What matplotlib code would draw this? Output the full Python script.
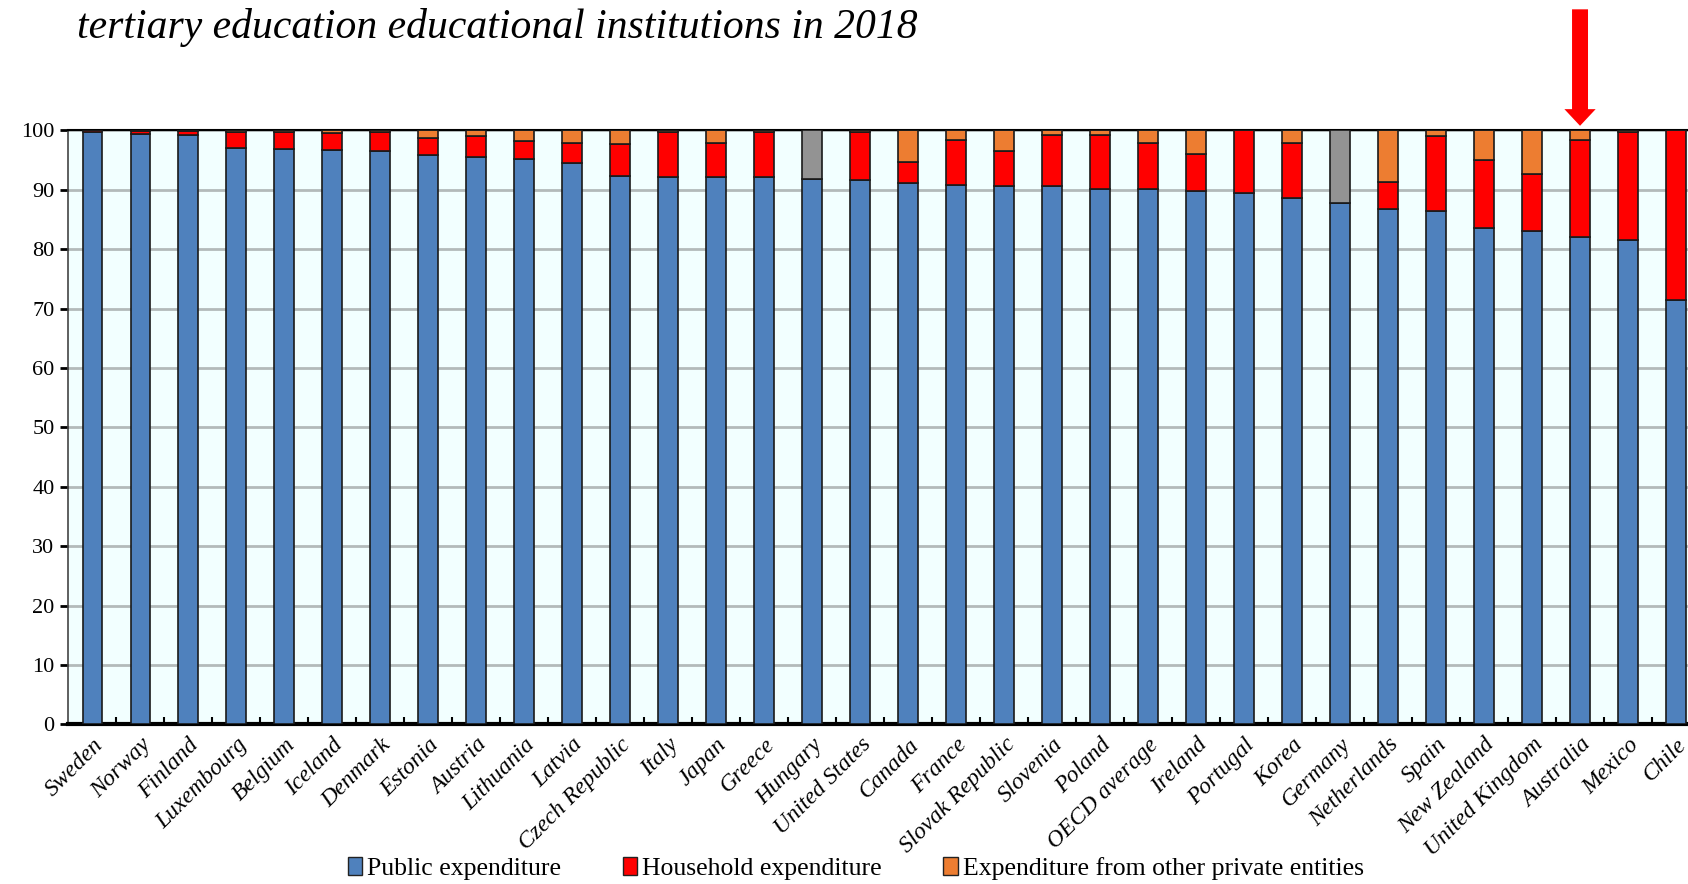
import matplotlib.pyplot as plt
from matplotlib.patches import Patch

# Shares of expenditure on tertiary educational institutions, 2018 (%)
countries = ['Sweden', 'Norway', 'Finland', 'Luxembourg', 'Belgium', 'Iceland', 'Denmark',
             'Estonia', 'Austria', 'Lithuania', 'Latvia', 'Czech Republic', 'Italy', 'Japan',
             'Greece', 'Hungary', 'United States', 'Canada', 'France', 'Slovak Republic',
             'Slovenia', 'Poland', 'OECD average', 'Ireland', 'Portugal', 'Korea', 'Germany',
             'Netherlands', 'Spain', 'New Zealand', 'United Kingdom', 'Australia', 'Mexico', 'Chile']
public = [99.8, 99.4, 99.2, 97.0, 96.8, 96.7, 96.6, 95.9, 95.5, 95.1, 94.5, 92.3, 92.2, 92.2,
          92.1, 91.8, 91.7, 91.1, 90.8, 90.6, 90.6, 90.2, 90.1, 89.8, 89.4, 88.6, 87.7,
          86.8, 86.4, 83.6, 83.1, 82.0, 81.5, 71.4]
household = [0.2, 0.5, 0.7, 2.7, 2.9, 2.9, 3.1, 2.8, 3.5, 3.1, 3.4, 5.4, 7.6, 5.7,
             7.6, 0.0, 8.1, 3.5, 7.6, 5.9, 8.7, 9.0, 7.8, 6.3, 10.6, 9.3, 0.0,
             4.5, 12.6, 11.4, 9.5, 16.3, 18.3, 28.6]
other_private = [0.0, 0.1, 0.1, 0.3, 0.3, 0.4, 0.3, 1.3, 1.0, 1.8, 2.1, 2.3, 0.2, 2.1,
                 0.3, 0.0, 0.2, 5.4, 1.6, 3.5, 0.7, 0.8, 2.1, 3.9, 0.0, 2.1, 0.0,
                 8.7, 1.0, 5.0, 7.4, 1.7, 0.2, 0.0]
# private total not broken down (shown in grey)
not_split = [0.0] * 15 + [8.2] + [0.0] * 10 + [12.3] + [0.0] * 7

blue, red, orange, grey = '#4F81BD', '#FF0000', '#ED7D31', '#939393'

plt.rcParams['font.family'] = ['Liberation Serif', 'DejaVu Serif']

fig = plt.figure(figsize=(16.88, 8.84), dpi=100)
ax = fig.add_axes([0.0405, 0.1805, 0.9595, 0.672])
ax.set_facecolor('#F2FFFF')

x = list(range(len(countries)))
w = 0.41
edge = dict(edgecolor='#1a1a1a', linewidth=1.2, zorder=3)
ax.bar(x, public, w, color=blue, **edge)
ax.bar(x, household, w, bottom=public, color=red, **edge)
base2 = [p + h for p, h in zip(public, household)]
ax.bar(x, other_private, w, bottom=base2, color=orange, **edge)
base3 = [b + o for b, o in zip(base2, other_private)]
ax.bar(x, not_split, w, bottom=base3, color=grey, **edge)

ax.set_xlim(-0.5, len(countries) - 0.75)
ax.set_ylim(0, 100)
ax.set_yticks(range(0, 101, 10))
ax.yaxis.grid(True, color='#B3BABA', linewidth=2)
ax.set_axisbelow(True)
ax.tick_params(axis='y', labelsize=16, length=6, width=2, direction='out', pad=4)

ax.set_xticks(x)
ax.set_xticklabels(countries, rotation=45, ha='right', rotation_mode='anchor',
                   fontsize=17, style='italic')
ax.tick_params(axis='x', length=0, pad=7)
ax.set_xticks([i + 0.5 for i in x[:-1]], minor=True)
ax.tick_params(axis='x', which='minor', direction='in', length=5, width=1.5)

ax.spines['right'].set_visible(False)
ax.spines['top'].set_color('black')
ax.spines['top'].set_linewidth(1.5)
ax.spines['bottom'].set_linewidth(3)
ax.spines['left'].set_linewidth(1.2)
ax.spines['left'].set_color('#444444')

fig.text(0.0456, 0.957, 'tertiary education educational institutions in 2018',
         fontsize=30, style='italic', va='baseline')

# red arrow pointing at Australia
ax.annotate('', xy=(countries.index('Australia'), 1.0077),
            xytext=(countries.index('Australia'), 1.2038),
            xycoords=('data', 'axes fraction'), textcoords=('data', 'axes fraction'),
            arrowprops=dict(facecolor=red, edgecolor='none', width=11.5, headwidth=22.5,
                            headlength=12, shrink=0), annotation_clip=False)

handles = [Patch(facecolor=blue, edgecolor='#222222', label='Public expenditure'),
           Patch(facecolor=red, edgecolor='#222222', label='Household expenditure'),
           Patch(facecolor=orange, edgecolor='#222222',
                 label='Expenditure from other private entities')]
fig.legend(handles=handles, loc='lower center', bbox_to_anchor=(0.507, -0.022), ncol=3,
           frameon=False, fontsize=18.5, handlelength=0.55, handleheight=0.7,
           handletextpad=0.2, columnspacing=2.4)

fig.savefig('out.png', dpi=100)
